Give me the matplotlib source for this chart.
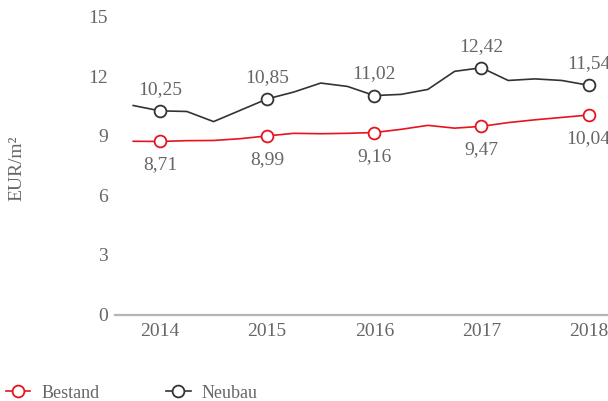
import matplotlib
matplotlib.use("Agg")
import numpy as np
import matplotlib.pyplot as plt

# quarterly values, first point is the last quarter of 2013
quarters = [2013.75, 2014.0, 2014.25, 2014.5, 2014.75, 2015.0, 2015.25, 2015.5, 2015.75,
            2016.0, 2016.25, 2016.5, 2016.75, 2017.0, 2017.25, 2017.5, 2017.75, 2018.0]
bestand = [8.72, 8.71, 8.75, 8.76, 8.85, 8.99, 9.12, 9.10, 9.12,
           9.16, 9.32, 9.52, 9.38, 9.47, 9.66, 9.80, 9.92, 10.04]
neubau = [10.52, 10.25, 10.22, 9.71, 10.28, 10.85, 11.20, 11.65, 11.48,
          11.02, 11.08, 11.33, 12.24, 12.42, 11.78, 11.86, 11.78, 11.54]
years = [2014, 2015, 2016, 2017, 2018]
yticks = [0, 3, 6, 9, 12, 15]

red = "#e5141e"
dark = "#333333"
grey = "#666666"

plt.rcParams['font.family'] = ['Liberation Serif', 'DejaVu Serif']

fig = plt.figure(figsize=(6.08, 4.01), dpi=100)
# axes reaches past the right border, like the original
ax = fig.add_axes([115/608, (401-314.5)/401, (640-115)/608, 298/401])

q = np.array(quarters)
idx = [quarters.index(y) for y in years]  # positions of the yearly markers

ax.plot(q, bestand, color=red, lw=1.2, zorder=2)
ax.plot(q, neubau, color=dark, lw=1.2, zorder=2)
ax.plot(q[idx], np.array(bestand)[idx], 'o', ms=8.5, mfc='white', mec=red, mew=1.3, zorder=3)
ax.plot(q[idx], np.array(neubau)[idx], 'o', ms=8.5, mfc='white', mec=dark, mew=1.3, zorder=3)

for i in idx:
    ax.annotate(f"{neubau[i]:.2f}".replace('.', ','), (q[i], neubau[i]), xytext=(0, 15.5),
                textcoords='offset points', ha='center', va='center', fontsize=14,
                color=grey, annotation_clip=False)
    ax.annotate(f"{bestand[i]:.2f}".replace('.', ','), (q[i], bestand[i]), xytext=(0, -17),
                textcoords='offset points', ha='center', va='center', fontsize=14,
                color=grey, annotation_clip=False)

ax.set_xlim(2013.58, 2018.48)
ax.set_ylim(0, 15)
ax.set_xticks(years)
ax.set_yticks(yticks)
ax.tick_params(length=0, labelsize=14, labelcolor=grey)
ax.tick_params(axis='x', pad=6)
ax.tick_params(axis='y', pad=5)
for s in ['top', 'right', 'left']:
    ax.spines[s].set_visible(False)
ax.spines['bottom'].set_color('#b5b5b5')
ax.spines['bottom'].set_linewidth(1.6)

fig.text(17/608, 1 - 168/401, "EUR/m²", rotation=90, ha='center', va='center',
         fontsize=14, color=grey)

h1, = ax.plot([], [], color=red, lw=1.2, marker='o', ms=8.5, mfc='white', mec=red, mew=1.3)
h2, = ax.plot([], [], color=dark, lw=1.2, marker='o', ms=8.5, mfc='white', mec=dark, mew=1.3)
leg = fig.legend([h1, h2], ["Bestand", "Neubau"], loc='center left',
                 bbox_to_anchor=(6/608, 1 - 393/401), ncol=2, frameon=False,
                 fontsize=13, handlelength=1.35, handletextpad=0.6, columnspacing=3.7,
                 borderpad=0, borderaxespad=0, labelcolor=grey)

fig.savefig("out.png", dpi=100)
